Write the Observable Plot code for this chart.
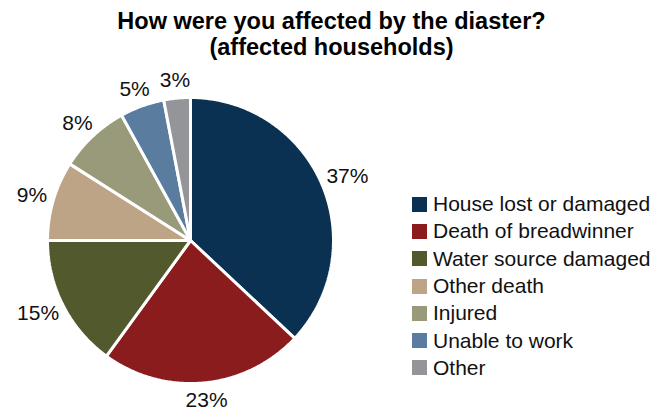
<!DOCTYPE html>
<html>
<head>
<meta charset="utf-8">
<script src="https://cdn.jsdelivr.net/npm/d3@7"></script>
<script src="https://cdn.jsdelivr.net/npm/@observablehq/plot@0.6"></script>
<style>
  body { margin: 0; background: #fff; }
  #wrap { position: relative; width: 657px; height: 410px; font-family: "Liberation Sans", Arial, Helvetica, sans-serif; overflow: hidden; }
  #title { position: absolute; left: 6px; top: 8px; width: 651px; text-align: center; font-weight: bold; font-size: 23.5px; line-height: 26px; color: #000; }
  #chart { position: absolute; left: 0; top: 65px; }
  #legend { position: absolute; left: 412px; top: 190.5px; }
  .row { display: flex; align-items: center; height: 27.3px; font-size: 21px; color: #111; white-space: nowrap; }
  .sw { width: 15px; height: 15px; margin-right: 6px; flex: none; }
</style>
</head>
<body>
<div id="wrap">
  <div id="title">How were you affected by the diaster?<br>(affected households)</div>
  <div id="chart"></div>
  <div id="legend"></div>
</div>
<script>
const categories = ["House lost or damaged", "Death of breadwinner", "Water source damaged", "Other death", "Injured", "Unable to work", "Other"];
const shares = [37, 23, 15, 9, 8, 5, 3];
const colors = ["#0b3152", "#8a1c1e", "#52592c", "#bea487", "#989a79", "#5a7c9e", "#939598"];
const labels = shares.map(d => d + "%");

const R = 143;
const FS = 21;
const arcs = d3.pie().sort(null).value(d => d)(shares);

// slice outlines
const slicePts = [];
arcs.forEach((a, i) => {
  const n = Math.max(8, Math.ceil((a.endAngle - a.startAngle) / 0.01));
  slicePts.push({k: i, x: 0, y: 0});
  for (let j = 0; j <= n; j++) {
    const t = a.startAngle + (a.endAngle - a.startAngle) * j / n;
    slicePts.push({k: i, x: R * Math.sin(t), y: -R * Math.cos(t)});
  }
  slicePts.push({k: i, x: 0, y: 0});
});

// outside-end labels
const labelPts = arcs.map((a, i) => {
  const m = (a.startAngle + a.endAngle) / 2;
  const dx = Math.sin(m), dy = -Math.cos(m);
  const digits = labels[i].length - 1;
  const w = (digits * 0.556 + 0.889) * FS;
  const h = FS * 1.0;
  return {
    text: labels[i],
    x: dx * (R + 7) + dx * w / 2,
    y: dy * (R + 7) + dy * h / 2
  };
});

const plot = Plot.plot({
  width: 400,
  height: 345,
  margin: 0,
  x: {domain: [-190, 210], range: [0, 400], axis: null},
  y: {domain: [-175, 170], range: [0, 345], axis: null},
  style: {fontFamily: '"Liberation Sans", Arial, Helvetica, sans-serif', background: "#fff"},
  marks: [
    Plot.line(slicePts, {x: "x", y: "y", z: "k", fill: d => colors[d.k], stroke: "#fff", strokeWidth: 3, strokeLinejoin: "miter", curve: "linear"}),
    Plot.text(labelPts, {x: "x", y: "y", text: "text", fontSize: FS, fill: "#111", textAnchor: "middle", lineAnchor: "middle"})
  ]
});
document.getElementById("chart").appendChild(plot);

const leg = document.getElementById("legend");
categories.forEach((c, i) => {
  const row = document.createElement("div");
  row.className = "row";
  const sw = document.createElement("div");
  sw.className = "sw";
  sw.style.background = colors[i];
  const tx = document.createElement("span");
  tx.textContent = c;
  row.appendChild(sw);
  row.appendChild(tx);
  leg.appendChild(row);
});
</script>
</body>
</html>
